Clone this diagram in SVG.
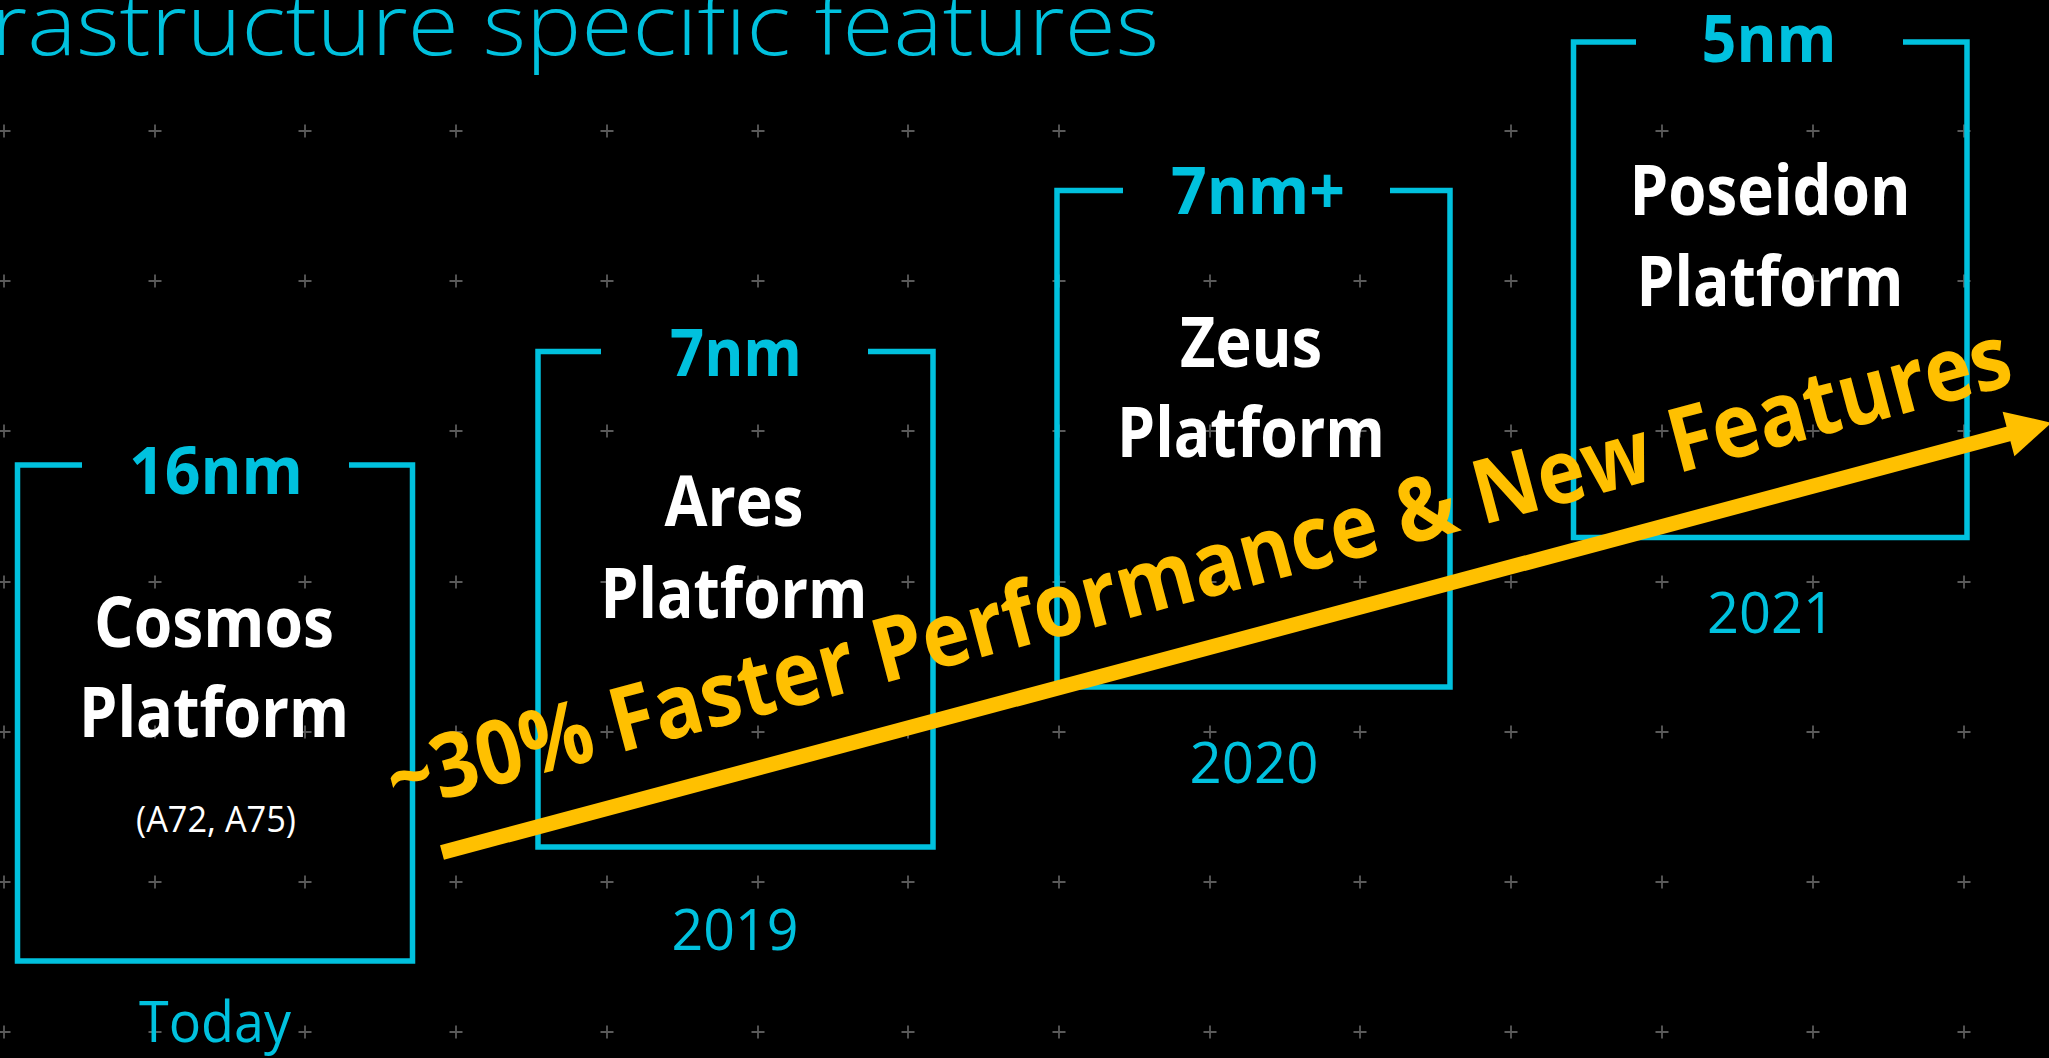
<svg xmlns="http://www.w3.org/2000/svg" xmlns:xlink="http://www.w3.org/1999/xlink" width="2049" height="1058" viewBox="0 0 2049 1058">
<style>
.grid use { stroke:#5a5a5a; stroke-width:1.8; }
.box { fill:none; stroke:#00C1DE; stroke-width:5.5; stroke-linejoin:miter; stroke-linecap:butt; }
.nm { font-family:"Open Sans","Liberation Sans",sans-serif; font-weight:700; font-size:67px; fill:#00C1DE; text-anchor:middle; }
.name { font-family:"Open Sans","Liberation Sans",sans-serif; font-weight:700; font-size:69px; fill:#FFFFFF; text-anchor:middle; }
.sub { font-family:"Open Sans","Liberation Sans",sans-serif; font-weight:400; font-size:36px; fill:#FFFFFF; text-anchor:middle; }
.year { font-family:"Open Sans","Liberation Sans",sans-serif; font-weight:400; font-size:56px; fill:#00C1DE; text-anchor:middle; }
.title { font-family:"Open Sans","Liberation Sans",sans-serif; font-weight:300; font-size:84px; fill:#00C1DE; }
.perf { font-family:"Open Sans","Liberation Sans",sans-serif; font-weight:700; font-size:89px; fill:#FFC000; }
.arrow { stroke:#FFC000; stroke-width:15; fill:none; stroke-linecap:butt; }
</style>
<defs>
<path id="cross" d="M-6.5 0H6.5M0 -6.5V6.5"/>
</defs>
<rect x="0" y="0" width="2049" height="1058" fill="#000000"/>

<text class="title" x="-9" y="55" textLength="1168" lengthAdjust="spacingAndGlyphs">rastructure specific features</text>

<g class="grid" id="grid">
<use href="#cross" x="4" y="131"/><use href="#cross" x="155" y="131"/><use href="#cross" x="305" y="131"/><use href="#cross" x="456" y="131"/><use href="#cross" x="607" y="131"/><use href="#cross" x="758" y="131"/><use href="#cross" x="908" y="131"/><use href="#cross" x="1059" y="131"/><use href="#cross" x="1511" y="131"/><use href="#cross" x="1662" y="131"/><use href="#cross" x="1813" y="131"/><use href="#cross" x="1964" y="131"/>
<use href="#cross" x="4" y="281"/><use href="#cross" x="155" y="281"/><use href="#cross" x="305" y="281"/><use href="#cross" x="456" y="281"/><use href="#cross" x="607" y="281"/><use href="#cross" x="758" y="281"/><use href="#cross" x="908" y="281"/><use href="#cross" x="1059" y="281"/><use href="#cross" x="1210" y="281"/><use href="#cross" x="1360" y="281"/><use href="#cross" x="1511" y="281"/><use href="#cross" x="1662" y="281"/><use href="#cross" x="1813" y="281"/><use href="#cross" x="1964" y="281"/>
<use href="#cross" x="4" y="431"/><use href="#cross" x="456" y="431"/><use href="#cross" x="607" y="431"/><use href="#cross" x="758" y="431"/><use href="#cross" x="908" y="431"/><use href="#cross" x="1059" y="431"/><use href="#cross" x="1210" y="431"/><use href="#cross" x="1360" y="431"/><use href="#cross" x="1511" y="431"/><use href="#cross" x="1662" y="431"/><use href="#cross" x="1813" y="431"/><use href="#cross" x="1964" y="431"/>
<use href="#cross" x="4" y="582"/><use href="#cross" x="155" y="582"/><use href="#cross" x="305" y="582"/><use href="#cross" x="456" y="582"/><use href="#cross" x="607" y="582"/><use href="#cross" x="758" y="582"/><use href="#cross" x="908" y="582"/><use href="#cross" x="1059" y="582"/><use href="#cross" x="1210" y="582"/><use href="#cross" x="1360" y="582"/><use href="#cross" x="1511" y="582"/><use href="#cross" x="1662" y="582"/><use href="#cross" x="1813" y="582"/><use href="#cross" x="1964" y="582"/>
<use href="#cross" x="4" y="732"/><use href="#cross" x="155" y="732"/><use href="#cross" x="305" y="732"/><use href="#cross" x="456" y="732"/><use href="#cross" x="607" y="732"/><use href="#cross" x="758" y="732"/><use href="#cross" x="908" y="732"/><use href="#cross" x="1059" y="732"/><use href="#cross" x="1210" y="732"/><use href="#cross" x="1360" y="732"/><use href="#cross" x="1511" y="732"/><use href="#cross" x="1662" y="732"/><use href="#cross" x="1813" y="732"/><use href="#cross" x="1964" y="732"/>
<use href="#cross" x="4" y="882"/><use href="#cross" x="155" y="882"/><use href="#cross" x="305" y="882"/><use href="#cross" x="456" y="882"/><use href="#cross" x="607" y="882"/><use href="#cross" x="758" y="882"/><use href="#cross" x="908" y="882"/><use href="#cross" x="1059" y="882"/><use href="#cross" x="1210" y="882"/><use href="#cross" x="1360" y="882"/><use href="#cross" x="1511" y="882"/><use href="#cross" x="1662" y="882"/><use href="#cross" x="1813" y="882"/><use href="#cross" x="1964" y="882"/>
<use href="#cross" x="4" y="1032"/><use href="#cross" x="155" y="1032"/><use href="#cross" x="305" y="1032"/><use href="#cross" x="456" y="1032"/><use href="#cross" x="607" y="1032"/><use href="#cross" x="758" y="1032"/><use href="#cross" x="908" y="1032"/><use href="#cross" x="1059" y="1032"/><use href="#cross" x="1210" y="1032"/><use href="#cross" x="1360" y="1032"/><use href="#cross" x="1511" y="1032"/><use href="#cross" x="1662" y="1032"/><use href="#cross" x="1813" y="1032"/><use href="#cross" x="1964" y="1032"/>
</g>

<g id="cosmos">
<path class="box" d="M82 465H17.5V961H412.5V465H349"/>
<text class="nm" x="216" y="494" textLength="174" lengthAdjust="spacingAndGlyphs">16nm</text>
<text class="name" x="214" y="647" textLength="240" lengthAdjust="spacingAndGlyphs">Cosmos</text>
<text class="name" x="214" y="737" textLength="270" lengthAdjust="spacingAndGlyphs">Platform</text>
<text class="sub" x="216" y="832" textLength="160" lengthAdjust="spacingAndGlyphs">(A72, A75)</text>
<text class="year" x="215" y="1042" textLength="152" lengthAdjust="spacingAndGlyphs">Today</text>
</g>

<g id="ares">
<path class="box" d="M601 351.5H538V847H933V351.5H868"/>
<text class="nm" x="736" y="376" textLength="132" lengthAdjust="spacingAndGlyphs">7nm</text>
<text class="name" x="734" y="526" textLength="139" lengthAdjust="spacingAndGlyphs">Ares</text>
<text class="name" x="734" y="618" textLength="267" lengthAdjust="spacingAndGlyphs">Platform</text>
<text class="year" x="735" y="950" textLength="127" lengthAdjust="spacingAndGlyphs">2019</text>
</g>

<g id="zeus">
<path class="box" d="M1123 190.5H1057V687H1450V190.5H1390"/>
<text class="nm" x="1258" y="214" textLength="174" lengthAdjust="spacingAndGlyphs">7nm+</text>
<text class="name" x="1251" y="367" textLength="142" lengthAdjust="spacingAndGlyphs">Zeus</text>
<text class="name" x="1251" y="457" textLength="268" lengthAdjust="spacingAndGlyphs">Platform</text>
<text class="year" x="1254" y="783" textLength="129" lengthAdjust="spacingAndGlyphs">2020</text>
</g>

<g id="poseidon">
<path class="box" d="M1636 42H1573.5V537.5H1967V42H1903"/>
<text class="nm" x="1769" y="62" textLength="135" lengthAdjust="spacingAndGlyphs">5nm</text>
<text class="name" x="1770" y="215" textLength="281" lengthAdjust="spacingAndGlyphs">Poseidon</text>
<text class="name" x="1770" y="306" textLength="267" lengthAdjust="spacingAndGlyphs">Platform</text>
<text class="year" x="1771" y="633" textLength="128" lengthAdjust="spacingAndGlyphs">2021</text>
</g>

<g id="connectors">
<line class="arrow" x1="442" y1="852.5" x2="2012" y2="433"/>
<polygon fill="#FFC000" points="2051.5,422.7 2014.4,456.2 2002.6,411.8"/>
<text class="perf" x="396" y="812" transform="rotate(-14.8 396 812)" textLength="1676" lengthAdjust="spacingAndGlyphs">~30% Faster Performance &amp; New Features</text>
</g>
</svg>
